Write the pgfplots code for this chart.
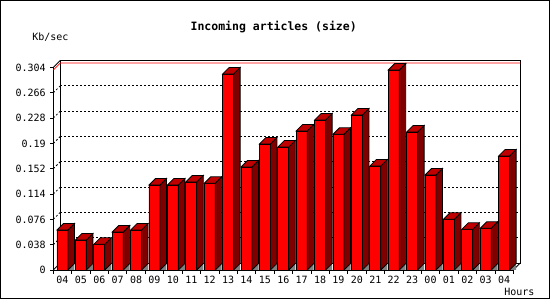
\documentclass[border=0pt]{standalone}
\usepackage{fontspec}
\setmainfont{DejaVu Sans Mono}
\usepackage{pgfplots}
\usepackage{pgfplotstable}
\pgfplotsset{compat=1.18}
\definecolor{topred}{RGB}{192,0,0}
\definecolor{sidered}{RGB}{128,0,0}
\definecolor{shadowgray}{RGB}{128,128,128}
\newcommand\yunit{666.1}
\pgfdeclareplotmark{bar3d}{%
  \pgfmathsetmacro\hh{\yval*\yunit}%
  \pgfmathsetmacro\hb{6.5-\hh}%
  \pgfsetlinewidth{0.8pt}%
  \pgfsetstrokecolor{black}%
  \pgfpathmoveto{\pgfpoint{5.5pt}{-\hh pt}}%
  \pgfpathlineto{\pgfpoint{12pt}{\hb pt}}%
  \pgfpathlineto{\pgfpoint{12pt}{-\hh pt}}%
  \pgfpathclose
  \pgfsetfillcolor{shadowgray}%
  \pgfusepath{fill}%
  \pgfpathmoveto{\pgfpoint{5.5pt}{0pt}}%
  \pgfpathlineto{\pgfpoint{12pt}{6.5pt}}%
  \pgfpathlineto{\pgfpoint{12pt}{\hb pt}}%
  \pgfpathlineto{\pgfpoint{5.5pt}{-\hh pt}}%
  \pgfpathclose
  \pgfsetfillcolor{sidered}%
  \pgfusepath{fill,stroke}%
  \pgfpathmoveto{\pgfpoint{-5.5pt}{0pt}}%
  \pgfpathlineto{\pgfpoint{1pt}{6.5pt}}%
  \pgfpathlineto{\pgfpoint{12pt}{6.5pt}}%
  \pgfpathlineto{\pgfpoint{5.5pt}{0pt}}%
  \pgfpathclose
  \pgfsetfillcolor{topred}%
  \pgfusepath{fill,stroke}%
}
\pgfplotstableread{
x y
0 0.0600
1 0.0450
2 0.0386
3 0.0570
4 0.0600
5 0.1276
6 0.1276
7 0.1321
8 0.1301
9 0.2942
10 0.1546
11 0.1892
12 0.1846
13 0.2087
14 0.2252
15 0.2037
16 0.2327
17 0.1561
18 0.3002
19 0.2072
20 0.1426
21 0.0761
22 0.0611
23 0.0626
24 0.1711
}\datatable
\begin{document}
\begin{tikzpicture}
\useasboundingbox (-53.3pt,-30pt) rectangle (496.7pt,270pt);
\draw[line width=1pt] (-52.8pt,-29pt) rectangle (495.7pt,269.5pt);
\begin{axis}[
  at={(0pt,0pt)}, anchor=south west,
  scale only axis, width=460pt, height=202.5pt,
  xmin=-0.5, xmax=24.5, ymin=0, ymax=0.304,
  enlargelimits=false, clip=false,
  axis x line*=bottom, axis y line*=left,
  axis line style={-, line width=0.8pt},
  tick align=outside,
  major tick length=3pt, minor tick length=4pt,
  tick style={black, line width=0.8pt},
  xtick={0,...,24},
  xticklabels={04,05,06,07,08,09,10,11,12,13,14,15,16,17,18,19,20,21,22,23,00,01,02,03,04},
  every major x tick/.style={draw=none},
  minor xtick={-0.5,0.5,...,24.5},
  ytick={0,0.038,0.076,0.114,0.152,0.19,0.228,0.266,0.304},
  yticklabels={0,0.038,0.076,0.114,0.152,0.19,0.228,0.266,0.304},
  /pgf/number format/assume math mode=true,
  ticklabel style={font=\fontsize{10}{12}\selectfont},
  yticklabel style={xshift=-1pt},
  ymajorgrids,
  major grid style={black, line width=0.8pt, dash pattern=on 2pt off 2pt, xshift=7pt, yshift=7pt},
]
\pgfplotsinvokeforeach{0.038,0.076,0.114,0.152,0.19,0.228,0.266}{
  \draw[black, line width=0.8pt, dash pattern=on 2pt off 2pt] (axis cs:-0.5,#1) -- ++(7pt,7pt);
}
\draw[black, line width=0.8pt] ([shift={(7pt,7pt)}]rel axis cs:0,0) rectangle ([shift={(7pt,7pt)}]rel axis cs:1,1);
\draw[black, line width=0.8pt] (rel axis cs:0,1) -- ++(7pt,7pt);
\draw[black, line width=0.8pt] (rel axis cs:0,0) -- ++(7pt,7pt);
\draw[black, line width=0.8pt] (rel axis cs:1,0) -- ++(7pt,7pt);
\draw[red, line width=0.8pt] (axis cs:-0.5,0.3002) -- ++(7pt,7pt) -- ([shift={(7pt,7pt)}]axis cs:24.5,0.3002);
\addplot[ybar, bar width=11pt, fill=red, draw=black, line width=0.8pt] table[x=x,y=y] {\datatable};
\addplot[scatter, only marks, mark=bar3d,
  scatter/@pre marker code/.code={},
  scatter/@post marker code/.code={},
  visualization depends on={rawy \as \yval}] table[x=x,y=y] {\datatable};
\end{axis}
\node[font=\bfseries\fontsize{11.5}{13}\selectfont] at (220.4pt,243pt) {Incoming articles (size)};
\node[anchor=west, font=\fontsize{10}{12}\selectfont] at (-24.5pt,233pt) {Kb/sec};
\node[font=\fontsize{10}{12}\selectfont] at (466pt,-22pt) {Hours};
\end{tikzpicture}
\end{document}
